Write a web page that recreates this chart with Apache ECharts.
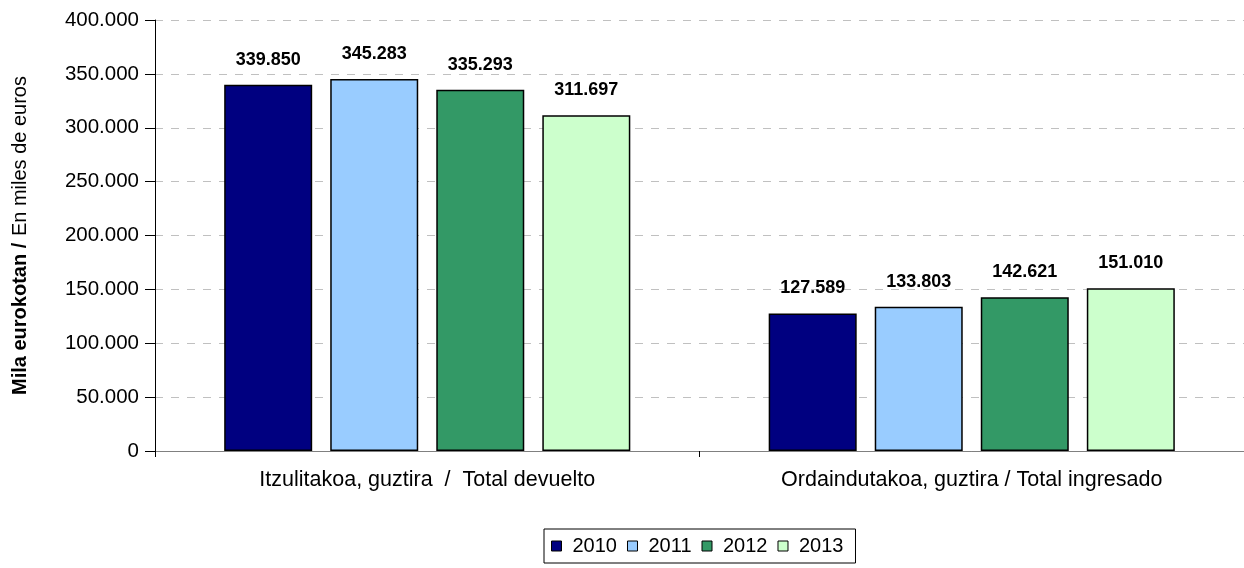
<!DOCTYPE html>
<html><head><meta charset="utf-8">
<script src="https://cdn.jsdelivr.net/npm/echarts@6/dist/echarts.min.js"></script>
<style>html,body{margin:0;padding:0;background:#fff}#c{width:1244px;height:568px}</style>
</head><body><div id="c"></div>
<script>
const categories = ['Itzulitakoa, guztira  /  Total devuelto', 'Ordaindutakoa, guztira / Total ingresado'];
const seriesNames = ['2010', '2011', '2012', '2013'];
const v2010 = [339850, 127589];
const v2011 = [345283, 133803];
const v2012 = [335293, 142621];
const v2013 = [311697, 151010];
const values = [v2010, v2011, v2012, v2013];
const colors = ['#000080', '#99CCFF', '#339966', '#CCFFCC'];

const fmt = n => {
  const s = String(Math.round(n));
  return s.replace(/\B(?=(\d{3})+(?!\d))/g, '.');
};
const F = 'Liberation Sans, Arial, sans-serif';
const chart = echarts.init(document.getElementById('c'), null, {renderer: 'canvas'});
chart.setOption({
  animation: false,
  textStyle: {fontFamily: F},
  color: colors,
  grid: {left: 155, width: 1096, top: 20, height: 431, containLabel: false},
  legend: {
    data: seriesNames, top: 529, left: 544,
    icon: 'rect',
    itemWidth: 10, itemHeight: 10, itemGap: 10,
    borderColor: '#000', borderWidth: 1, padding: [7, 12, 7, 7],
    textStyle: {fontSize: 20, color: '#000', fontFamily: F, padding: [0, 0, 0, 6]},
    itemStyle: {borderColor: '#000', borderWidth: 1}
  },
  xAxis: {
    type: 'category', data: categories,
    axisLine: {lineStyle: {color: '#808080', width: 1}},
    axisTick: {show: true, length: 6, lineStyle: {color: '#000'}},
    axisLabel: {fontSize: 21.5, color: '#000', margin: 18, fontFamily: F}
  },
  yAxis: {
    type: 'value', min: 0, max: 400000, interval: 50000,
    name: '{b|Mila eurokotan /}  {r|En miles de euros}',
    nameLocation: 'middle', nameGap: 125, nameRotate: 90,
    nameTextStyle: {rich: {b: {fontWeight: 'bold', fontSize: 20, fontFamily: F, color: '#000'}, r: {fontSize: 20, fontFamily: F, color: '#000'}}},
    axisLine: {show: true, lineStyle: {color: '#000', width: 1}},
    axisTick: {show: true, length: 10, lineStyle: {color: '#000'}},
    axisLabel: {fontSize: 20.5, color: '#000', margin: 16, formatter: v => fmt(v), fontFamily: F},
    splitLine: {lineStyle: {color: '#c0c0c0', type: [8, 8], width: 1}}
  },
  series: seriesNames.map((n, i) => ({
    name: n, type: 'bar', data: values[i],
    barWidth: 88, barGap: '20.5%',
    itemStyle: {color: colors[i], borderColor: '#000', borderWidth: 1.5},
    label: {show: true, position: 'top', distance: 16, fontSize: 18, fontWeight: 'bold', color: '#000', fontFamily: F, formatter: p => fmt(p.value)}
  }))
});
</script></body></html>
